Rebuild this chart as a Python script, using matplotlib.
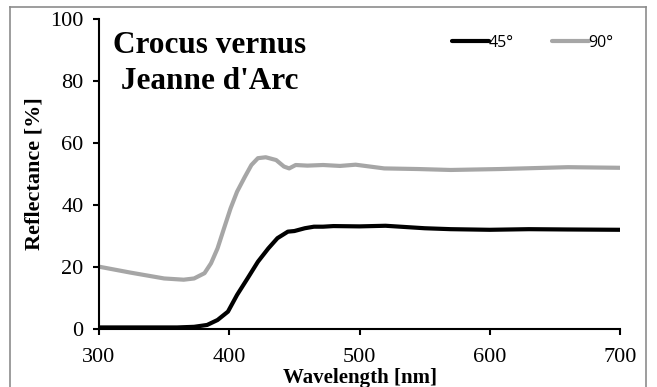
import matplotlib.pyplot as plt
from matplotlib.lines import Line2D

# 45 degree curve (black)
wl_45 = [300, 330, 360, 373, 383, 391, 399, 406, 414, 422, 430, 437, 445, 450, 458,
         465, 472, 480, 500, 520, 535, 550, 570, 600, 630, 660, 700]
r_45 = [0.5, 0.5, 0.5, 0.7, 1.3, 2.9, 5.6, 11.0, 16.3, 21.7, 26.0, 29.3, 31.4, 31.6, 32.5,
        33.0, 33.0, 33.2, 33.1, 33.3, 32.9, 32.5, 32.2, 32.0, 32.2, 32.1, 32.0]

# 90 degree curve (grey)
wl_90 = [300, 324, 350, 365, 373, 381, 386, 391, 396, 401, 406, 412, 417, 422, 428,
         436, 442, 446, 451, 460, 472, 485, 497, 519, 545, 570, 608, 660, 700]
r_90 = [20.1, 18.2, 16.3, 15.9, 16.3, 18.0, 21.2, 26.0, 32.5, 38.9, 44.3, 49.1, 52.9, 55.1, 55.4,
        54.5, 52.4, 51.8, 52.9, 52.7, 52.9, 52.6, 53.0, 51.8, 51.6, 51.3, 51.6, 52.2, 52.0]

xticks = [300, 400, 500, 600, 700]
yticks = [0, 20, 40, 60, 80, 100]

plt.rcParams['font.family'] = ['Liberation Serif', 'DejaVu Serif']

fig = plt.figure(figsize=(6.57, 3.87), dpi=100)
ax = fig.add_axes([0.1507, 0.1499, 0.7930, 0.8010])

ax.plot(wl_45, r_45, color='black', lw=3, label='45°', solid_capstyle='round')
ax.plot(wl_90, r_90, color='#a6a6a6', lw=3, label='90°', solid_capstyle='round')

ax.set_xlim(300, 700)
ax.set_ylim(0, 100)
ax.set_xticks(xticks)
ax.set_yticks(yticks)
ax.tick_params(labelsize=16, width=1.5, length=4, direction='out', colors='black')
ax.tick_params(axis='x', pad=10)
ax.tick_params(axis='y', pad=7)
ax.spines['top'].set_visible(False)
ax.spines['right'].set_visible(False)
ax.spines['left'].set_linewidth(1.5)
ax.spines['bottom'].set_linewidth(1.5)

ax.set_xlabel('Wavelength [nm]', fontsize=15, fontweight='bold', labelpad=0.5)
ax.set_ylabel('Reflectance [%]', fontsize=16, fontweight='bold', labelpad=4)

ax.text(0.027, 0.962, 'Crocus vernus\n Jeanne d\'Arc', transform=ax.transAxes,
        ha='left', va='top', fontsize=22.5, fontweight='bold', linespacing=1.35)

ax.legend(loc='upper right', bbox_to_anchor=(1.0, 0.969), borderaxespad=0, ncol=2,
          frameon=False, handlelength=2.3, handletextpad=0.0, columnspacing=2.4,
          prop={'family': 'Open Sans', 'size': 11.5})

# outer frame of the figure
for xs, ys in [([10, 10], [387, 7]), ([10, 646], [7, 7]), ([646, 646], [7, 387])]:
    fig.add_artist(Line2D([x / 657 for x in xs], [1 - y / 387 for y in ys],
                          transform=fig.transFigure, color='#8c8c8c', lw=1.2))

fig.savefig('out.png', dpi=100)
